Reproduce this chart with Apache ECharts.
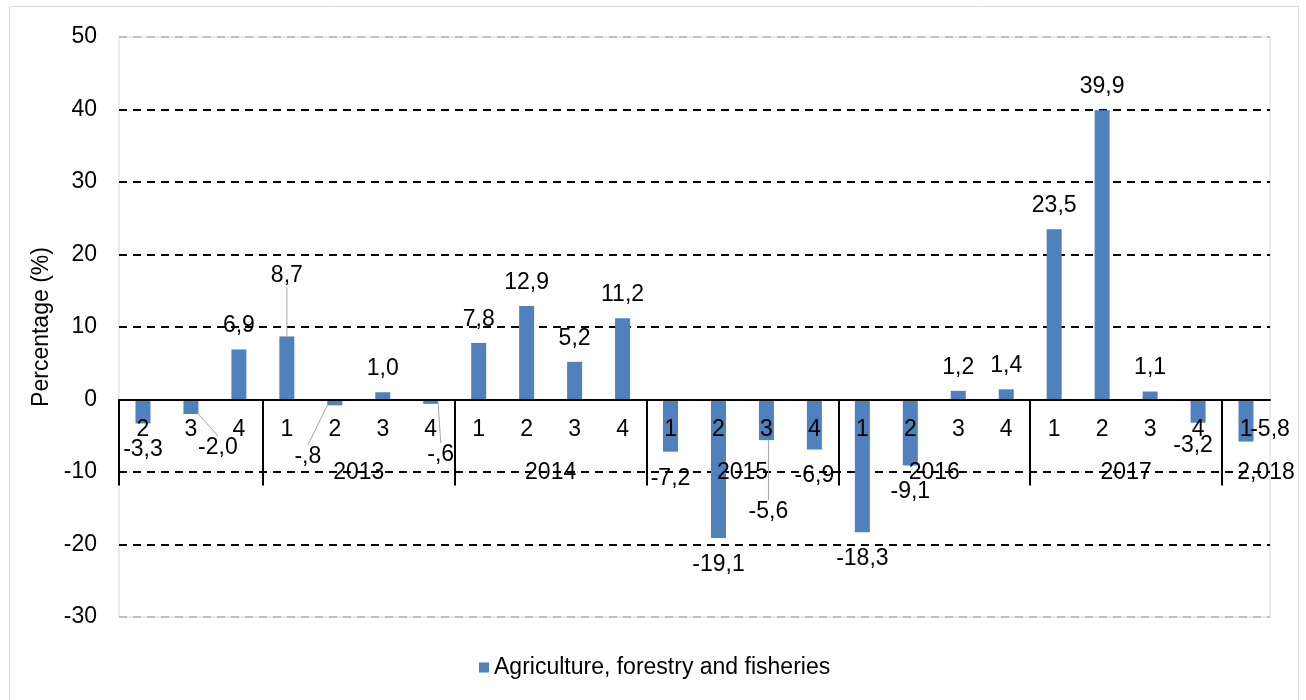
<!DOCTYPE html>
<html>
<head>
<meta charset="utf-8">
<script src="https://cdn.jsdelivr.net/npm/echarts@6/dist/echarts.min.js"></script>
<style>
  html, body { margin: 0; padding: 0; background: #fff; }
  #chart { width: 1306px; height: 700px; }
</style>
</head>
<body>
<div id="chart"></div>
<script>
// Quarterly change, agriculture, forestry and fisheries (%)
const quarterLabels = ['2','3','4','1','2','3','4','1','2','3','4','1','2','3','4','1','2','3','4','1','2','3','4','1'];
const values = [-3.3, -2.0, 6.9, 8.7, -0.8, 1.0, -0.6, 7.8, 12.9, 5.2, 11.2, -7.2, -19.1, -5.6, -6.9, -18.3, -9.1, 1.2, 1.4, 23.5, 39.9, 1.1, -3.2, -5.8];
const yearLabels = ['', '2013', '2014', '2015', '2016', '2017', '2,018'];
const yearSpans = [3, 4, 4, 4, 4, 4, 1];
const seriesName = 'Agriculture, forestry and fisheries';
const yMin = -30, yMax = 50, yStep = 10;

// Labels that were dragged away from their bar: [dx, dy, draw leader line]
const labelNudges = {
  1: [27, 7, true],
  3: [0, -37, true],
  4: [-27, 25, true],
  6: [10, 24, true],
  13: [2, 45, true],
  22: [-5, -4, false],
  23: [24, -38, false]
};

const FONT = "'Liberation Sans', Arial, sans-serif";
const FS = 23;

// Plot rectangle
const GRID = { left: 119, right: 36, top: 37, bottom: 83 };
const plotHeight = 700 - GRID.top - GRID.bottom;
// Shift the category axes up from the plot's bottom edge to the zero line
const zeroOffset = -plotHeight * (0 - yMin) / (yMax - yMin);

// Group boundaries and centres on a 0..N scale of category bands
const boundaries = [];
const centres = [];
let acc = 0;
yearSpans.forEach(function (n) {
  boundaries.push(acc);
  centres.push(acc + n / 2);
  acc += n;
});
const centreToLabel = {};
centres.forEach(function (c, i) { centreToLabel[c] = i; });

function fmt(v) {
  let s = Math.abs(v).toFixed(1).replace('.', ',');
  if (s.indexOf('0,') === 0) s = s.slice(1);
  return (v < 0 ? '-' : '') + s;
}

const seriesData = values.map(function (v, i) {
  const nudge = labelNudges[i];
  return {
    value: v,
    label: { position: v < 0 ? 'bottom' : 'top', distance: v < 0 ? 15 : 12 },
    labelLine: { show: !!(nudge && nudge[2]) }
  };
});

const splitColors = [];
for (let t = yMin; t <= yMax; t += yStep) {
  splitColors.push(t === yMin || t === yMax ? '#bfbfbf' : '#000000');
}

const chart = echarts.init(document.getElementById('chart'), null, { renderer: 'canvas' });
chart.setOption({
  animation: false,
  backgroundColor: '#ffffff',
  textStyle: { fontFamily: FONT },
  graphic: [{
    type: 'rect',
    shape: { x: 9.5, y: 6.5, width: 1289, height: 720 },
    style: { fill: 'none', stroke: '#d9d9d9', lineWidth: 1 },
    silent: true,
    z: -10
  }],
  grid: {
    left: GRID.left, right: GRID.right, top: GRID.top, bottom: GRID.bottom,
    show: true, borderColor: '#d9d9d9', borderWidth: 1, backgroundColor: 'transparent'
  },
  legend: {
    data: [seriesName],
    left: 474, top: 651,
    icon: 'rect', itemWidth: 10, itemHeight: 10, itemGap: 10,
    textStyle: { fontFamily: FONT, fontSize: FS, color: '#000' }
  },
  xAxis: [{
    type: 'category',
    data: quarterLabels,
    position: 'bottom',
    offset: zeroOffset,
    z: 5,
    axisLine: { onZero: false, lineStyle: { color: '#000', width: 2 } },
    axisTick: { show: false },
    axisLabel: { interval: 0, margin: 19, fontFamily: FONT, fontSize: FS, color: '#000' },
    splitLine: { show: false }
  }, {
    type: 'value',
    min: 0, max: acc,
    position: 'bottom',
    offset: zeroOffset,
    z: 5,
    axisLine: { show: false, onZero: false },
    axisTick: {
      show: true, customValues: boundaries, length: 86, inside: false,
      lineStyle: { color: '#000', width: 2 }
    },
    axisLabel: {
      show: true, customValues: centres, margin: 62,
      fontFamily: FONT, fontSize: FS, color: '#000',
      formatter: function (v) {
        const i = centreToLabel[v];
        if (i === undefined) return '';
        return i === yearLabels.length - 1 ? '{shift|' + yearLabels[i] + '}' : yearLabels[i];
      },
      rich: { shift: { fontFamily: FONT, fontSize: FS, color: '#000', padding: [0, 0, 0, 40] } }
    },
    splitLine: { show: false }
  }],
  yAxis: {
    type: 'value',
    min: yMin, max: yMax, interval: yStep,
    name: 'Percentage (%)',
    nameLocation: 'middle', nameRotate: 90, nameGap: 65,
    nameTextStyle: { fontFamily: FONT, fontSize: FS, color: '#000' },
    axisLine: { show: false, onZero: false },
    axisTick: { show: false },
    axisLabel: { margin: 22, fontFamily: FONT, fontSize: FS, color: '#000' },
    splitLine: { show: true, lineStyle: { color: splitColors, width: 2, type: [8, 6] } }
  },
  series: [{
    name: seriesName,
    type: 'bar',
    xAxisIndex: 0,
    barWidth: 15,
    data: seriesData,
    itemStyle: { color: '#4f81bd' },
    label: {
      show: true,
      fontFamily: FONT, fontSize: FS, color: '#000',
      formatter: function (p) { return fmt(p.value); }
    },
    labelLine: { show: false, lineStyle: { color: '#a6a6a6', width: 1 } },
    labelLayout: function (p) {
      const n = labelNudges[p.dataIndex];
      return n ? { dx: n[0], dy: n[1] } : {};
    }
  }]
});
</script>
</body>
</html>
